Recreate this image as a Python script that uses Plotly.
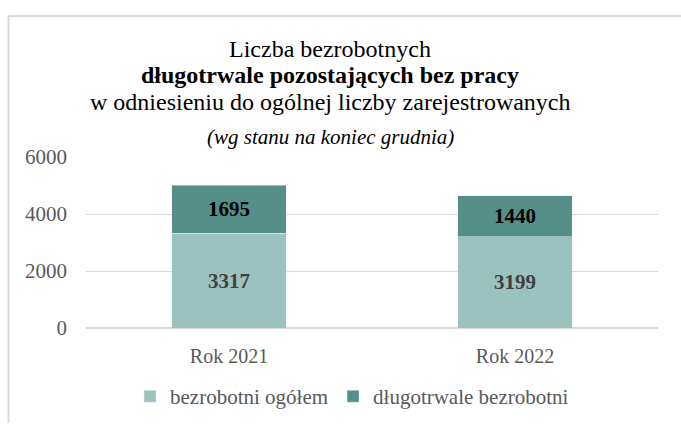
import plotly.graph_objects as go

categories = ["Rok 2021", "Rok 2022"]
ogolem = [3317, 3199]
dlugotrwale = [1695, 1440]
series_names = ["bezrobotni ogółem", "długotrwale bezrobotni"]
y_ticks = [0, 2000, 4000, 6000]

FONT = "Liberation Serif, serif"
LIGHT = "#9CC2BF"
DARK = "#568F88"

fig = go.Figure()
fig.add_trace(go.Bar(
    x=categories, y=ogolem, name=series_names[0], marker_color=LIGHT,
    text=[str(v) for v in ogolem], textposition="inside", insidetextanchor="middle",
    textfont=dict(family=FONT, size=21, color="#404040", weight="bold"),
    hoverinfo="skip"))
fig.add_trace(go.Bar(
    x=categories, y=dlugotrwale, name=series_names[1], marker_color=DARK,
    text=[str(v) for v in dlugotrwale], textposition="inside", insidetextanchor="middle",
    textfont=dict(family=FONT, size=21, color="#000000", weight="bold"),
    hoverinfo="skip"))

L, R, T, B = 86, 23, 157, 95
W, H = 681, 429
pw, ph = W - L - R, H - T - B

def px(x):
    return (x - L) / pw

def py(y):
    return (H - B - y) / ph

fig.update_layout(
    width=W, height=H, autosize=False, barmode="stack", bargap=0.6,
    margin=dict(l=L, r=R, t=T, b=B),
    paper_bgcolor="white", plot_bgcolor="white",
    font=dict(family=FONT, size=21, color="#595959"),
    showlegend=True,
    legend=dict(orientation="h", x=px(130), xanchor="left", y=py(405), yanchor="middle",
                font=dict(family=FONT, size=21, color="#595959"), traceorder="normal"),
    xaxis=dict(showgrid=False, showline=False, ticks="", ticklabelstandoff=14,
               tickfont=dict(family=FONT, size=20, color="#595959")),
    yaxis=dict(range=[0, 6000], tickvals=y_ticks, showgrid=True, gridcolor="#D9D9D9",
               gridwidth=1, zeroline=True, zerolinecolor="#D9D9D9", showline=False,
               ticks="", ticklabelstandoff=18,
               tickfont=dict(family=FONT, size=21, color="#595959")),
)

title_lines = [
    ("Liczba bezrobotnych", 45, 24, "normal", "normal"),
    ("długotrwale pozostających bez pracy", 72, 24, "bold", "normal"),
    ("w odniesieniu do ogólnej liczby zarejestrowanych", 100, 24, "normal", "normal"),
    ("(wg stanu na koniec grudnia)", 136, 21, "normal", "italic"),
]
for txt, yy, sz, wt, st in title_lines:
    fig.add_annotation(text=txt, xref="paper", yref="paper", x=px(330), y=py(yy),
                       xanchor="center", yanchor="middle", showarrow=False,
                       font=dict(family=FONT, size=sz, color="#000000", weight=wt, style=st))

# chart frame (left and top borders)
fig.add_shape(type="line", xref="paper", yref="paper", x0=px(8.5), x1=px(8.5),
              y0=py(11), y1=py(432), line=dict(color="#D9D9D9", width=2))
fig.add_shape(type="line", xref="paper", yref="paper", x0=px(8.5), x1=px(684),
              y0=py(11), y1=py(11), line=dict(color="#D9D9D9", width=2))

fig.write_html("out.html",
               config=dict(displayModeBar=False, responsive=False),
               post_script="document.body.style.margin='0px';document.body.style.overflow='hidden';")
